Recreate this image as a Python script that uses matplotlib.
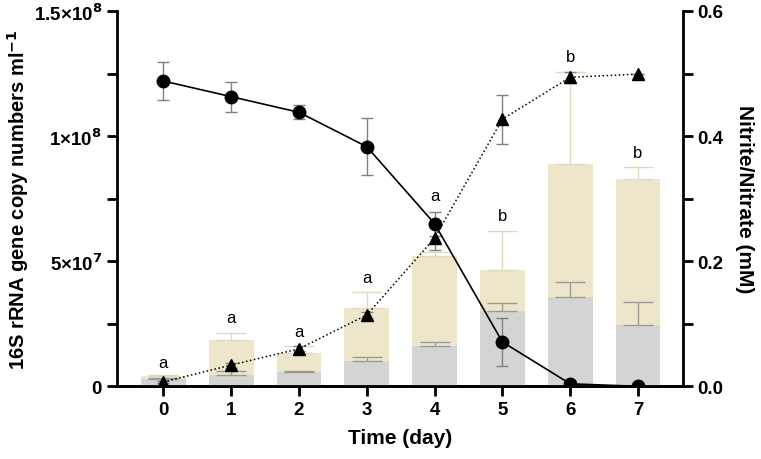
import matplotlib.pyplot as plt
from matplotlib.ticker import MultipleLocator, FixedLocator

plt.rcParams['font.family'] = ['Liberation Sans', 'DejaVu Sans']
plt.rcParams['mathtext.default'] = 'bf'

# days
days = [0, 1, 2, 3, 4, 5, 6, 7]

# 16S rRNA copies (left axis): total (beige) and lower part (grey)
total_copies = [4.0e6, 18.6e6, 13.3e6, 31.1e6, 52.1e6, 46.3e6, 88.8e6, 82.9e6]
total_err = [0.6e6, 2.9e6, 2.7e6, 6.4e6, 1.5e6, 15.8e6, 36.8e6, 4.6e6]
grey_copies = [2.9e6, 4.7e6, 5.6e6, 10.0e6, 16.0e6, 30.2e6, 35.6e6, 24.6e6]
grey_err = [0.3e6, 1.5e6, 0.6e6, 1.7e6, 1.6e6, 3.1e6, 6.0e6, 9.1e6]

# letters above the bars and their heights
letters = ['a', 'a', 'a', 'a', 'a', 'b', 'b', 'b']
letter_y = [9.5e6, 27.4e6, 21.9e6, 43.4e6, 76.1e6, 68.1e6, 131.9e6, 93.3e6]

# nitrate (circles) and nitrite (triangles), mM, right axis
nitrate = [0.488, 0.463, 0.438, 0.383, 0.260, 0.071, 0.004, 0.0]
nitrate_err = [0.031, 0.024, 0.011, 0.046, 0.019, 0.039, 0.003, 0.0]
nitrite = [0.007, 0.034, 0.060, 0.114, 0.237, 0.427, 0.494, 0.499]
nitrite_err = [0.002, 0.004, 0.004, 0.004, 0.019, 0.039, 0.009, 0.0]

fig = plt.figure(figsize=(7.61, 4.60), dpi=100)
ax1 = fig.add_axes([0.1533, 0.158, 0.7438, 0.816])

# bars
ax1.bar(days, total_copies, width=0.66, color='#ede6cb', zorder=1)
ax1.errorbar(days, total_copies, yerr=[[0] * 8, total_err], fmt='none',
             ecolor='#e2dabb', elinewidth=1, capsize=11, zorder=2)
ax1.bar(days, grey_copies, width=0.66, color='#d4d4d4', zorder=3)
ax1.errorbar(days, grey_copies, yerr=[[0] * 8, grey_err], fmt='none',
             ecolor='#9a9a9a', elinewidth=1, capsize=11, zorder=4)

for d, l, y in zip(days, letters, letter_y):
    ax1.text(d, y, l, ha='center', va='center', fontsize=12)

ax1.set_xlim(-0.69, 7.66)
ax1.set_ylim(0, 1.5e8)
ax1.yaxis.set_major_locator(FixedLocator([0, 5e7, 1e8, 1.5e8]))
ax1.set_yticklabels(['0', r'5×10$^{7}$', r'1×10$^{8}$', r'1.5×10$^{8}$'])
ax1.yaxis.set_minor_locator(FixedLocator([2.5e7, 7.5e7, 1.25e8]))
ax1.set_xticks(days)
ax1.set_xlabel('Time (day)', fontsize=15, fontweight='bold', labelpad=7)
ax1.set_ylabel(r'16S rRNA gene copy numbers ml$^{-1}$', fontsize=14.5,
               fontweight='bold', labelpad=2)

ax2 = ax1.twinx()
ax2.errorbar(days, nitrate, yerr=nitrate_err, color='black', marker='o',
             markersize=9, linewidth=1.2, ecolor='#808080', elinewidth=1,
             capsize=4, zorder=5)
ax2.errorbar(days, nitrite, yerr=nitrite_err, color='black', marker='^',
             markersize=8, linewidth=1.1, linestyle=':', ecolor='#808080',
             elinewidth=1, capsize=4, zorder=5)
ax2.set_ylim(0, 0.6)
ax2.yaxis.set_major_locator(MultipleLocator(0.2))
ax2.yaxis.set_minor_locator(MultipleLocator(0.1))
ax2.yaxis.set_major_formatter(plt.FormatStrFormatter('%.1f'))
ax2.set_ylabel('Nitrite/Nitrate (mM)', fontsize=15, fontweight='bold',
               rotation=270, labelpad=22)

for ax in (ax1, ax2):
    ax.spines['top'].set_visible(False)
    for s in ax.spines.values():
        s.set_linewidth(2)
    ax.tick_params(which='major', length=7, width=2, labelsize=13.5)
    ax.tick_params(which='minor', length=7, width=2)
    for lab in ax.get_xticklabels() + ax.get_yticklabels():
        lab.set_fontweight('bold')
ax1.spines['right'].set_visible(False)
ax2.spines['left'].set_visible(False)

fig.savefig('out.png', dpi=100)
